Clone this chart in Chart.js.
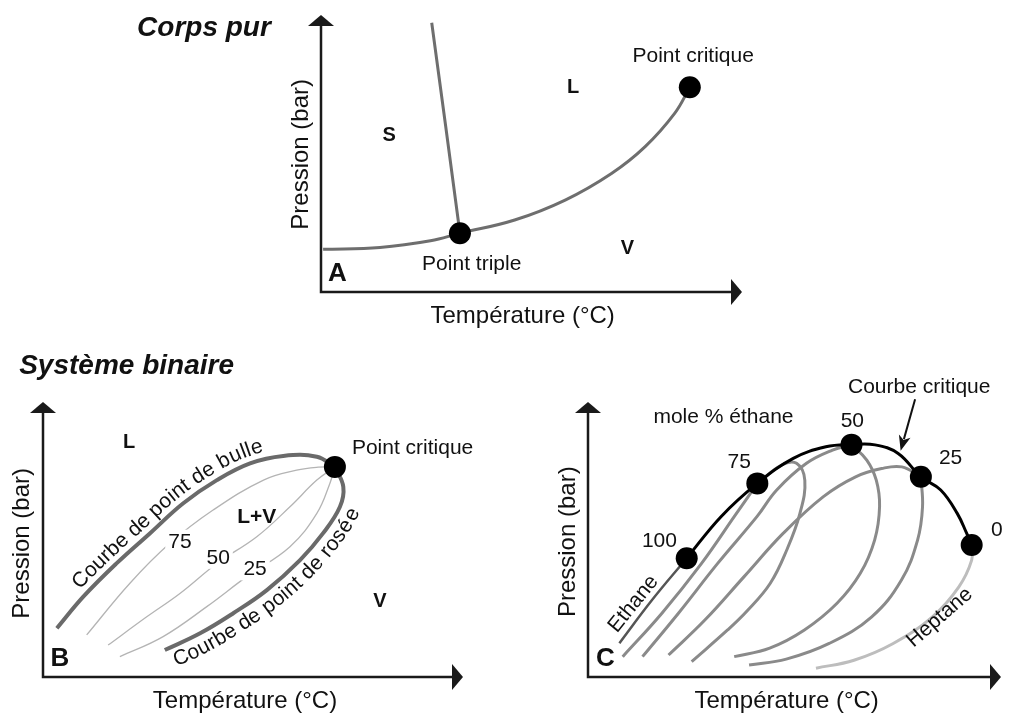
<!DOCTYPE html>
<html>
<head>
<meta charset="utf-8">
<script src="https://cdn.jsdelivr.net/npm/chart.js@4.4.1/dist/chart.umd.min.js"></script>
<style>
  body { margin: 0; background: #fff; width: 1012px; height: 716px; position: relative; overflow: hidden; }
  canvas { position: absolute; }
</style>
</head>
<body>
<canvas id="chartA" width="700" height="340" style="left:100px;top:0;width:700px;height:340px"></canvas>
<canvas id="chartB" width="500" height="376" style="left:0;top:340px;width:500px;height:376px"></canvas>
<canvas id="chartC" width="512" height="376" style="left:500px;top:340px;width:512px;height:376px"></canvas>
<script>
// Data (temperature, pressure) in arbitrary units 0..100 =====================

// A - corps pur
var fusionA = [[26.3, 97.2], [29.6, 60], [33, 21.2]];
var vaporisationA = [[0.5, 15.4], [14, 16.1], [26, 18.5], [33, 21.2], [46, 26], [58, 33.2], [69, 42.8], [77, 52.5], [84, 64.5], [87.6, 73.9]];
var pointsA = [[33, 21.2], [87.6, 73.9]];

// B - systeme binaire
var bulleB = [[3.3, 17.7], [9.6, 29.2], [17.5, 41.3], [25.5, 52.3], [33.4, 63.2], [41.4, 71.6], [49.3, 77.7], [57.2, 80.4], [65.2, 80.1], [69.5, 76.4]];
var roseeB = [[29, 9.8], [37.4, 15.9], [45.3, 23.2], [53.3, 31.6], [61.2, 42.5], [66.7, 52.3], [70.7, 61.9], [71.5, 69.2], [69.5, 76.4]];
var iso75B = [[10.4, 15.3], [20.7, 34.1], [30.2, 48.6], [40.5, 60.7], [52.5, 71.6], [60.4, 75.2], [65.5, 76.3], [69.5, 76.4]];
var iso50B = [[15.5, 11.6], [24.7, 21.9], [32.6, 30.4], [41.4, 41.3], [50.9, 51], [58.8, 61.9], [65.2, 71.6], [69.5, 76.4]];
var iso25B = [[18.3, 7.4], [28.6, 14.7], [39, 25.6], [48.5, 36.5], [58.8, 47.4], [65.2, 59.5], [68.3, 70.4], [69.5, 76.4]];
var pointB = [[69.5, 76.4]];

// C - ethane / heptane
var critiqueC = [[23.9, 43.2], [32.2, 58.3], [41, 70.4], [49.7, 79.5], [57.6, 83.7], [63.8, 84.5], [69.5, 84.4], [75.1, 81.3], [80.6, 72.8], [85.4, 68], [89.4, 59.5], [91.7, 52.2], [92.9, 48]];
var pointsC = [[23.9, 43.2], [41, 70.4], [63.8, 84.5], [80.6, 72.8], [92.9, 48]];
var ethaneC = [[7.6, 12.3], [15.5, 28], [23.9, 43.2]];
var heptaneC = [[55.2, 3.2], [64.4, 6.1], [73.9, 12.2], [83.4, 21.9], [89.8, 32.8], [92.9, 42.5], [92.9, 48]];
var bulle75C = [[8.4, 7.4], [17.9, 23.2], [27.5, 41.3], [35.4, 58.3], [41, 70.4]];
var rosee75C = [[41, 70.4], [46.9, 77.1], [50.5, 77.7], [52.5, 71.5], [51.3, 59.4], [48.1, 46.1], [44.1, 34], [38.5, 24], [33.8, 17.1], [25.1, 5.6]];
var bulle50C = [[13.2, 7.4], [21.9, 23.2], [31.4, 41.3], [40.9, 58.3], [45.7, 68], [52.9, 77.7], [59.2, 82.5], [63.8, 84.5]];
var rosee50C = [[63.8, 84.5], [67.5, 78.9], [69.8, 71.6], [70.6, 62], [69.4, 49.8], [65.9, 37.6], [60.3, 26.8], [52.4, 17.1], [44, 10.5], [35.4, 7.4]];
var bulle25C = [[19.5, 8], [28.3, 20.7], [37.8, 36.5], [47.3, 52.3], [57, 65.6], [64.8, 72.8], [71.1, 75.8], [76, 76.4], [80.6, 72.8]];
var rosee25C = [[80.6, 72.8], [81, 61.9], [79.8, 49.8], [75.9, 35.3], [68.7, 21.9], [58.4, 12.2], [48, 6.5], [39, 4.4]];

// Helpers =====================================================================
var FONT = '"Liberation Sans", Arial, sans-serif';

function pts(arr) {
  return arr.map(function(p) { return { x: p[0], y: p[1] }; });
}

function curve(arr, color, width, tension) {
  return {
    data: pts(arr), showLine: true, borderColor: color, borderWidth: width,
    tension: tension === undefined ? 0.4 : tension, pointRadius: 0, pointHoverRadius: 0,
    clip: false, order: 2, borderCapStyle: 'butt'
  };
}

function dots(arr) {
  return {
    data: pts(arr), showLine: false, pointRadius: 11, pointHoverRadius: 11,
    pointBackgroundColor: '#000', pointBorderWidth: 0, clip: false, order: 0
  };
}

function drawAxes(ctx, a) {
  ctx.save();
  ctx.strokeStyle = '#1a1a1a';
  ctx.fillStyle = '#1a1a1a';
  ctx.lineWidth = 2.5;
  ctx.beginPath();
  ctx.moveTo(a.left, a.top + 9);
  ctx.lineTo(a.left, a.bottom);
  ctx.lineTo(a.right - 9, a.bottom);
  ctx.stroke();
  // arrow heads
  ctx.beginPath();
  ctx.moveTo(a.left, a.top);
  ctx.lineTo(a.left - 13, a.top + 11);
  ctx.lineTo(a.left + 13, a.top + 11);
  ctx.closePath();
  ctx.fill();
  ctx.beginPath();
  ctx.moveTo(a.right, a.bottom);
  ctx.lineTo(a.right - 11, a.bottom - 13);
  ctx.lineTo(a.right - 11, a.bottom + 13);
  ctx.closePath();
  ctx.fill();
  ctx.restore();
}

function drawLabel(ctx, chart, l) {
  var px = chart.scales.x.getPixelForValue(l.x);
  var py = chart.scales.y.getPixelForValue(l.y);
  ctx.save();
  ctx.translate(px, py);
  if (l.rot) ctx.rotate(l.rot * Math.PI / 180);
  ctx.font = l.font + ' ' + FONT;
  ctx.textAlign = 'center';
  ctx.textBaseline = 'middle';
  if (l.bg) {
    var w = ctx.measureText(l.text).width;
    ctx.fillStyle = '#fff';
    ctx.fillRect(-w / 2 - 3, -12, w + 6, 24);
  }
  ctx.fillStyle = '#111';
  ctx.fillText(l.text, 0, 1);
  ctx.restore();
}

// sample the bezier path chart.js drew for a dataset
function curvePath(chart, index) {
  var els = chart.getDatasetMeta(index).data;
  var out = [];
  for (var i = 0; i < els.length - 1; i++) {
    var a = els[i], b = els[i + 1];
    var c1x = a.cp2x === undefined ? a.x : a.cp2x, c1y = a.cp2y === undefined ? a.y : a.cp2y;
    var c2x = b.cp1x === undefined ? b.x : b.cp1x, c2y = b.cp1y === undefined ? b.y : b.cp1y;
    for (var k = 0; k < 24; k++) {
      var t = k / 24, u = 1 - t;
      out.push([
        u * u * u * a.x + 3 * u * u * t * c1x + 3 * u * t * t * c2x + t * t * t * b.x,
        u * u * u * a.y + 3 * u * u * t * c1y + 3 * u * t * t * c2y + t * t * t * b.y
      ]);
    }
  }
  var last = els[els.length - 1];
  out.push([last.x, last.y]);
  return out;
}

function textOnCurve(ctx, chart, c) {
  var path = curvePath(chart, c.dataset);
  var cum = [0];
  for (var i = 1; i < path.length; i++) {
    cum.push(cum[i - 1] + Math.hypot(path[i][0] - path[i - 1][0], path[i][1] - path[i - 1][1]));
  }
  function at(s) {
    s = Math.max(0, Math.min(cum[cum.length - 1], s));
    var j = 1;
    while (j < cum.length - 1 && cum[j] < s) j++;
    var f = (s - cum[j - 1]) / ((cum[j] - cum[j - 1]) || 1);
    return [path[j - 1][0] + f * (path[j][0] - path[j - 1][0]), path[j - 1][1] + f * (path[j][1] - path[j - 1][1])];
  }
  ctx.save();
  ctx.font = c.font + ' ' + FONT;
  ctx.textAlign = 'center';
  ctx.textBaseline = 'alphabetic';
  ctx.fillStyle = '#111';
  var s = c.start;
  for (var n = 0; n < c.text.length; n++) {
    var ch = c.text[n];
    var w = ctx.measureText(ch).width;
    var p = at(s + w / 2), p0 = at(s + w / 2 - 4), p1 = at(s + w / 2 + 4);
    ctx.save();
    ctx.translate(p[0], p[1]);
    ctx.rotate(Math.atan2(p1[1] - p0[1], p1[0] - p0[0]));
    ctx.fillText(ch, 0, c.offset);
    ctx.restore();
    s += w * (c.squeeze || 1);
  }
  ctx.restore();
}

function drawArrow(ctx, chart, ar) {
  var x0 = chart.scales.x.getPixelForValue(ar.from[0]), y0 = chart.scales.y.getPixelForValue(ar.from[1]);
  var x1 = chart.scales.x.getPixelForValue(ar.to[0]), y1 = chart.scales.y.getPixelForValue(ar.to[1]);
  var ang = Math.atan2(y1 - y0, x1 - x0);
  ctx.save();
  ctx.strokeStyle = '#111';
  ctx.fillStyle = '#111';
  ctx.lineWidth = 2;
  ctx.beginPath();
  ctx.moveTo(x0, y0);
  ctx.lineTo(x1 - 12 * Math.cos(ang), y1 - 12 * Math.sin(ang));
  ctx.stroke();
  ctx.translate(x1, y1);
  ctx.rotate(ang);
  ctx.beginPath();
  ctx.moveTo(0, 0);
  ctx.lineTo(-15, -6);
  ctx.lineTo(-11, 0);
  ctx.lineTo(-15, 6);
  ctx.closePath();
  ctx.fill();
  ctx.restore();
}

var diagramPlugin = {
  id: 'diagram',
  beforeDatasetsDraw: function(chart) {
    drawAxes(chart.ctx, chart.chartArea);
  },
  afterDatasetsDraw: function(chart, args, opts) {
    var ctx = chart.ctx;
    (opts.arrows || []).forEach(function(a) { drawArrow(ctx, chart, a); });
    (opts.curveTexts || []).forEach(function(c) { textOnCurve(ctx, chart, c); });
    (opts.labels || []).forEach(function(l) { drawLabel(ctx, chart, l); });
  }
};

function makeChart(id, datasets, padding, deco) {
  return new Chart(document.getElementById(id), {
    type: 'scatter',
    data: { datasets: datasets },
    options: {
      responsive: false,
      animation: false,
      events: [],
      layout: { padding: padding },
      scales: {
        x: { type: 'linear', min: 0, max: 100, display: false },
        y: { type: 'linear', min: 0, max: 100, display: false }
      },
      plugins: { legend: { display: false }, tooltip: { enabled: false }, diagram: deco }
    },
    plugins: [diagramPlugin]
  });
}

// A ==========================================================================
makeChart('chartA', [
  dots(pointsA),
  curve(fusionA, '#6e6e6e', 3, 0),
  curve(vaporisationA, '#6e6e6e', 3)
], { left: 221, right: 58, top: 15, bottom: 48 }, {
  labels: [
    { text: 'Corps pur', x: -27.8, y: 95.7, font: 'italic bold 28px' },
    { text: 'S', x: 16.2, y: 56.7, font: 'bold 20px' },
    { text: 'L', x: 59.9, y: 74.1, font: 'bold 20px' },
    { text: 'V', x: 72.8, y: 16.1, font: 'bold 20px' },
    { text: 'Point critique', x: 88.4, y: 85.6, font: '21px' },
    { text: 'Point triple', x: 35.8, y: 10.4, font: '21px' },
    { text: 'A', x: 3.9, y: 7.0, font: 'bold 26px' },
    { text: 'Température (°C)', x: 47.9, y: -8.3, font: '24px' },
    { text: 'Pression (bar)', x: -4.8, y: 49.7, font: '24px', rot: -90 }
  ]
});

// B ==========================================================================
makeChart('chartB', [
  dots(pointB),
  curve(bulleB, '#6a6a6a', 4),
  curve(roseeB, '#6a6a6a', 4),
  curve(iso75B, '#b4b4b4', 1.3),
  curve(iso50B, '#b4b4b4', 1.3),
  curve(iso25B, '#b4b4b4', 1.3)
], { left: 43, right: 37, top: 62, bottom: 39 }, {
  curveTexts: [
    { dataset: 1, text: 'Courbe de point de bulle', font: '21px', start: 44, offset: -7 },
    { dataset: 2, text: 'Courbe de point de rosée', font: '21px', start: 4, offset: 20, squeeze: 0.97 }
  ],
  labels: [
    { text: 'Système binaire', x: 19.9, y: 113.5, font: 'italic bold 28px' },
    { text: 'L', x: 20.5, y: 85.6, font: 'bold 20px' },
    { text: 'Point critique', x: 88.0, y: 83.7, font: '21px' },
    { text: 'L+V', x: 50.9, y: 58.3, font: 'bold 21px' },
    { text: '75', x: 32.6, y: 49.2, font: '21px', bg: true },
    { text: '50', x: 41.7, y: 43.7, font: '21px', bg: true },
    { text: '25', x: 50.5, y: 39.5, font: '21px', bg: true },
    { text: 'V', x: 80.2, y: 28, font: 'bold 20px' },
    { text: 'B', x: 4.0, y: 6.8, font: 'bold 26px' },
    { text: 'Température (°C)', x: 48.1, y: -8.4, font: '24px' },
    { text: 'Pression (bar)', x: -5.1, y: 48.6, font: '24px', rot: -90 }
  ]
});

// C ==========================================================================
makeChart('chartC', [
  dots(pointsC),
  curve(critiqueC, '#000', 3),
  curve(bulle75C, '#8a8a8a', 3),
  curve(rosee75C, '#8a8a8a', 3),
  curve(bulle50C, '#8a8a8a', 3),
  curve(rosee50C, '#8a8a8a', 3),
  curve(bulle25C, '#8a8a8a', 3),
  curve(rosee25C, '#8a8a8a', 3),
  curve(ethaneC, '#555', 2.5),
  curve(heptaneC, '#bdbdbd', 3)
], { left: 88, right: 4, top: 62, bottom: 39 }, {
  arrows: [{ from: [79.2, 101], to: [75.7, 82.3] }],
  labels: [
    { text: 'mole % éthane', x: 32.8, y: 94.7, font: '21px' },
    { text: 'Courbe critique', x: 80.2, y: 105.6, font: '21px' },
    { text: '100', x: 17.3, y: 49.8, font: '21px' },
    { text: '75', x: 36.6, y: 78.3, font: '21px' },
    { text: '50', x: 64.0, y: 93.5, font: '21px' },
    { text: '25', x: 87.8, y: 79.8, font: '21px' },
    { text: '0', x: 99.0, y: 53.8, font: '21px' },
    { text: 'C', x: 4.2, y: 6.8, font: 'bold 26px' },
    { text: 'Ethane', x: 10.8, y: 26.8, font: '21px', rot: -51 },
    { text: 'Heptane', x: 85.0, y: 21.9, font: '21px', rot: -41 },
    { text: 'Température (°C)', x: 48.1, y: -8.4, font: '24px' },
    { text: 'Pression (bar)', x: -4.9, y: 49.2, font: '24px', rot: -90 }
  ]
});
</script>
</body>
</html>
